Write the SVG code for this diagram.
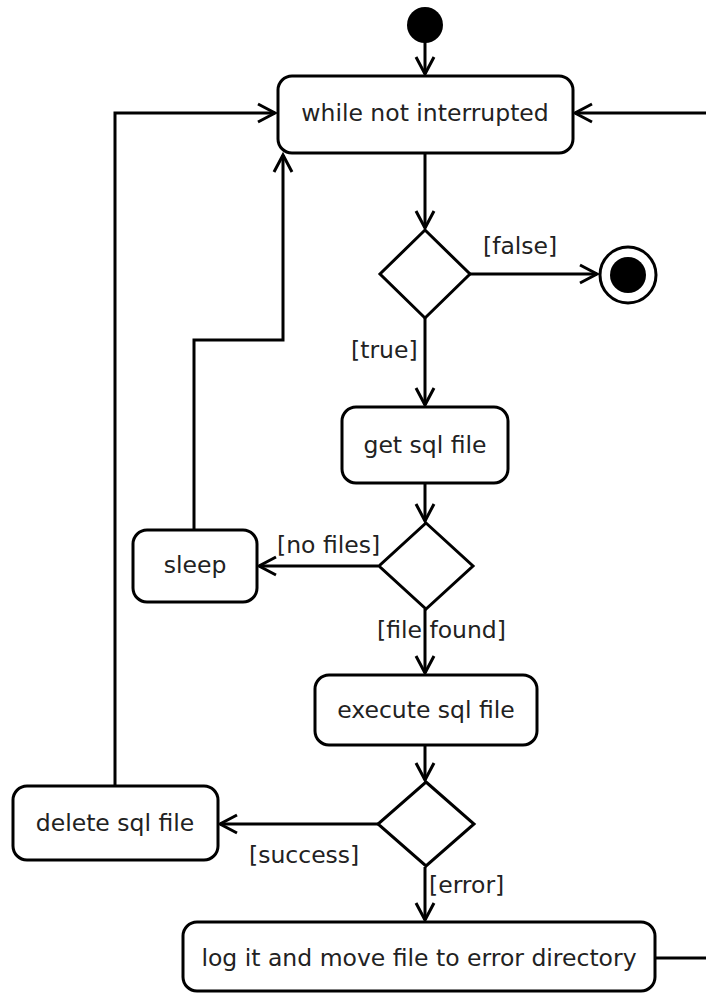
<svg xmlns="http://www.w3.org/2000/svg" width="706" height="993" viewBox="0 0 706 993">
  <style>
    .box { fill: #fff; stroke: #000; stroke-width: 3; }
    .dec { fill: #fff; stroke: #000; stroke-width: 3; stroke-linejoin: miter; }
    .lbl { font-family: "DejaVu Sans", "Liberation Sans", sans-serif; font-size: 23.5px; fill: #222; }
    .mid { text-anchor: middle; }
    .edge { fill: none; stroke: #000; stroke-width: 3; }
    .arr { marker-end: url(#open); }
  </style>
  <defs>
    <marker id="open" markerUnits="userSpaceOnUse" viewBox="-20 -12 24 24" refX="0" refY="0" markerWidth="24" markerHeight="24" orient="auto" overflow="visible">
      <path d="M-17,-9 L0,0 L-17,9" fill="none" stroke="#000" stroke-width="3"/>
    </marker>
  </defs>
  <rect width="706" height="993" fill="#fff"/>

  <!-- connectors -->
  <g id="edges">
    <line class="edge arr" x1="425" y1="42" x2="425" y2="74"/>
    <line class="edge arr" x1="706" y1="113" x2="575" y2="113"/>
    <polyline class="edge arr" points="115,786 115,113 275,113"/>
    <line class="edge arr" x1="425" y1="153" x2="425" y2="228"/>
    <line class="edge arr" x1="470" y1="274" x2="597" y2="274"/>
    <line class="edge arr" x1="425" y1="318" x2="425" y2="405"/>
    <line class="edge arr" x1="425" y1="483" x2="425" y2="521"/>
    <line class="edge arr" x1="378" y1="566" x2="259" y2="566"/>
    <polyline class="edge arr" points="194,530 194,340 283,340 283,155"/>
    <line class="edge arr" x1="425" y1="609" x2="425" y2="673"/>
    <line class="edge arr" x1="425" y1="745" x2="425" y2="780"/>
    <line class="edge arr" x1="378" y1="824" x2="220" y2="824"/>
    <line class="edge arr" x1="425" y1="867" x2="425" y2="920"/>
    <line class="edge" x1="655" y1="958" x2="706" y2="958"/>
    <text class="lbl" x="483" y="254">[false]</text>
    <text class="lbl" x="351" y="358">[true]</text>
    <text class="lbl" x="277" y="553">[no files]</text>
    <text class="lbl" x="377" y="638">[file found]</text>
    <text class="lbl" x="249" y="863">[success]</text>
    <text class="lbl" x="429" y="893">[error]</text>
  </g>

  <g id="start">
    <circle cx="425" cy="25" r="18" fill="#000"/>
  </g>

  <g id="while">
    <rect class="box" x="278" y="76" width="295" height="77" rx="14"/>
    <text class="lbl mid" x="425" y="121">while not interrupted</text>
  </g>

  <g id="decision-interrupted">
    <polygon class="dec" points="425,230 470,274 425,318 380,274"/>
  </g>

  <g id="end">
    <circle cx="628" cy="275" r="28" fill="#fff" stroke="#000" stroke-width="3"/>
    <circle cx="628" cy="275" r="18" fill="#000"/>
  </g>

  <g id="get-sql-file">
    <rect class="box" x="342" y="407" width="166" height="76" rx="14"/>
    <text class="lbl mid" x="425" y="453">get sql file</text>
  </g>

  <g id="decision-files">
    <polygon class="dec" points="426,523 473,566 426,609 379,566"/>
  </g>

  <g id="sleep">
    <rect class="box" x="133" y="530" width="124" height="72" rx="14"/>
    <text class="lbl mid" x="195" y="573">sleep</text>
  </g>

  <g id="execute-sql-file">
    <rect class="box" x="315" y="675" width="222" height="70" rx="14"/>
    <text class="lbl mid" x="426" y="718">execute sql file</text>
  </g>

  <g id="decision-result">
    <polygon class="dec" points="426,782 474,824 426,866 378,824"/>
  </g>

  <g id="delete-sql-file">
    <rect class="box" x="13" y="786" width="205" height="74" rx="14"/>
    <text class="lbl mid" x="115" y="831">delete sql file</text>
  </g>

  <g id="log-error">
    <rect class="box" x="183" y="922" width="472" height="69" rx="14"/>
    <text class="lbl mid" x="419" y="966">log it and move file to error directory</text>
  </g>
</svg>
